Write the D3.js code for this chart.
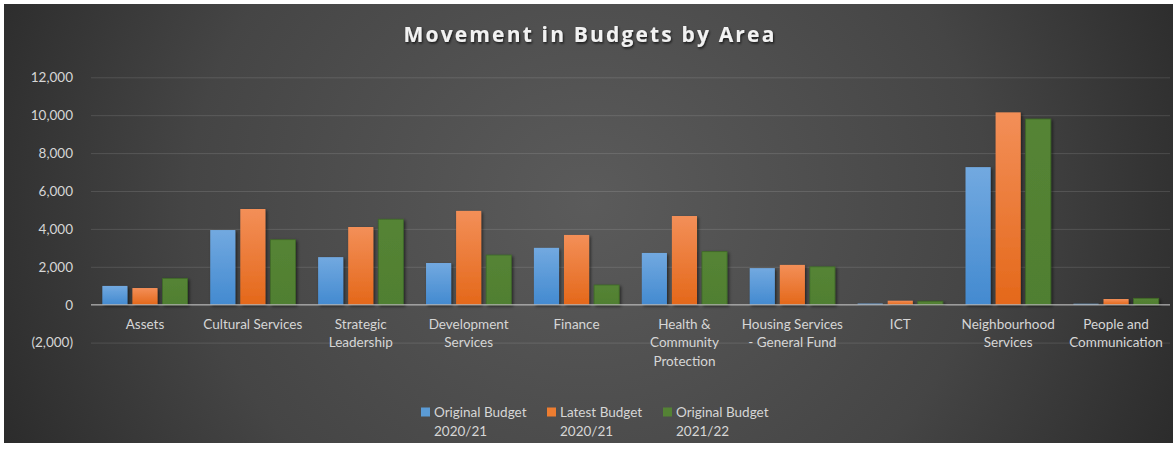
<!DOCTYPE html>
<html>
<head>
<meta charset="utf-8">
<script src="https://cdnjs.cloudflare.com/ajax/libs/d3/7.8.5/d3.min.js"></script>
<style>
  html, body { margin: 0; padding: 0; background: #ffffff; }
  svg { display: block; }
  text { font-family: Lato, "Open Sans", sans-serif; }
</style>
</head>
<body>
<svg id="chart" width="1176" height="452"></svg>
<script>
// Budget movements by service area (£000)
const categories = [
  "Assets", "Cultural Services", "Strategic Leadership", "Development Services",
  "Finance", "Health & Community Protection", "Housing Services - General Fund",
  "ICT", "Neighbourhood Services", "People and Communication"
];
const seriesNames = ["Original Budget 2020/21", "Latest Budget 2020/21", "Original Budget 2021/22"];
const originalBudget2021 = [990, 3940, 2510, 2200, 3000, 2730, 1930, 60, 7260, 50];
const latestBudget2021   = [880, 5050, 4100, 4950, 3680, 4680, 2100, 210, 10150, 300];
const originalBudget2122 = [1390, 3430, 4510, 2620, 1040, 2800, 2000, 180, 9800, 335];
const yTicks = [-2000, 0, 2000, 4000, 6000, 8000, 10000, 12000];

const series = [originalBudget2021, latestBudget2021, originalBudget2122];

const svg = d3.select("#chart");
const defs = svg.append("defs");

// chart background: soft radial glow
const bg = defs.append("radialGradient").attr("id", "bgGrad")
  .attr("cx", "0.5").attr("cy", "0.45").attr("r", "0.62")
  .attr("gradientTransform", "translate(0.5,0.45) scale(1,2.4) translate(-0.5,-0.45)");
bg.append("stop").attr("offset", "0%").attr("stop-color", "#5b5b5b");
bg.append("stop").attr("offset", "55%").attr("stop-color", "#454545");
bg.append("stop").attr("offset", "100%").attr("stop-color", "#232323");

// bar fills
function vGrad(id, top, bottom) {
  const g = defs.append("linearGradient").attr("id", id)
    .attr("x1", 0).attr("y1", 0).attr("x2", 0).attr("y2", 1);
  g.append("stop").attr("offset", "0%").attr("stop-color", top);
  g.append("stop").attr("offset", "100%").attr("stop-color", bottom);
}
vGrad("gBlue", "#72a9e0", "#438ad0");
vGrad("gOrange", "#f38f58", "#e4681a");
vGrad("gGreen", "#558435", "#507f31");
const fills = ["url(#gBlue)", "url(#gOrange)", "url(#gGreen)"];
const legendColors = ["#5b9bd5", "#ed7d31", "#548235"];

const shadow = defs.append("filter").attr("id", "barShadow")
  .attr("x", "-20%").attr("y", "-20%").attr("width", "150%").attr("height", "150%");
shadow.append("feDropShadow").attr("dx", 1.5).attr("dy", 1.5)
  .attr("stdDeviation", 1.6).attr("flood-color", "#000").attr("flood-opacity", 0.55);

const titleShadow = defs.append("filter").attr("id", "titleShadow")
  .attr("x", "-10%").attr("y", "-30%").attr("width", "120%").attr("height", "160%");
titleShadow.append("feDropShadow").attr("dx", 1).attr("dy", 1.5)
  .attr("stdDeviation", 1.2).attr("flood-color", "#000").attr("flood-opacity", 0.7);

svg.append("rect").attr("x", 4).attr("y", 4).attr("width", 1169).attr("height", 439)
  .attr("fill", "url(#bgGrad)");

// scales
const x0 = d3.scaleBand().domain(categories).range([91, 1170]).paddingInner(0).paddingOuter(0);
const groupW = x0.bandwidth() * 0.79;
const x1 = d3.scaleBand().domain(d3.range(series.length))
  .range([(x0.bandwidth() - groupW) / 2, (x0.bandwidth() + groupW) / 2])
  .paddingInner(0.165);
const y = d3.scaleLinear().domain([-2000, 12000]).range([342.6, 77.3]);

const numFmt = d3.format(",");
const tickFmt = d => d < 0 ? `(${numFmt(-d)})` : numFmt(d);
const labelSize = 13.5;

// gridlines + y labels
const yAxis = d3.axisLeft(y).tickValues(yTicks).tickFormat(tickFmt)
  .tickSize(-(1170 - 91)).tickPadding(18);
const gy = svg.append("g").attr("transform", "translate(91,0)").call(yAxis);
gy.select(".domain").remove();
gy.selectAll(".tick line").attr("stroke", "#ffffff").attr("stroke-opacity", 0.12).attr("stroke-width", 1);
gy.selectAll(".tick text").attr("fill", "#d6d6d6").attr("font-size", labelSize);

// bars
const groups = svg.append("g").selectAll("g").data(categories).join("g")
  .attr("transform", d => `translate(${x0(d)},0)`);
groups.selectAll("rect")
  .data((c, i) => series.map((s, k) => ({ k, v: s[i] })))
  .join("rect")
  .attr("x", d => x1(d.k))
  .attr("width", x1.bandwidth())
  .attr("y", d => y(Math.max(0, d.v)))
  .attr("height", d => Math.abs(y(d.v) - y(0)))
  .attr("fill", d => fills[d.k])
  .attr("stroke", d => d.k === 2 ? "#3f6a27" : "none")
  .attr("stroke-width", 0.8)
  .attr("filter", "url(#barShadow)");

// horizontal axis at zero
svg.append("line").attr("x1", 91).attr("x2", 1170).attr("y1", y(0)).attr("y2", y(0))
  .attr("stroke", "#bfbfbf").attr("stroke-opacity", 0.7).attr("stroke-width", 1.6);

// category labels, wrapped to band width
const labelG = svg.append("g");
categories.forEach(c => {
  const cx = x0(c) + x0.bandwidth() / 2;
  const t = labelG.append("text").attr("x", cx).attr("y", 329)
    .attr("text-anchor", "middle").attr("fill", "#d6d6d6").attr("font-size", labelSize);
  const words = c.split(" ");
  let line = [];
  let ts = t.append("tspan").attr("x", cx).attr("dy", 0);
  words.forEach(w => {
    line.push(w);
    ts.text(line.join(" "));
    if (ts.node().getComputedTextLength() > x0.bandwidth() - 2 && line.length > 1) {
      line.pop();
      ts.text(line.join(" "));
      line = [w];
      ts = t.append("tspan").attr("x", cx).attr("dy", 18.3).text(w);
    }
  });
});

// title, spaced out to its set width
const title = svg.append("text").attr("x", 590).attr("y", 42).attr("text-anchor", "middle")
  .attr("fill", "#f2f2f2").attr("font-size", 21).attr("font-weight", 700)
  .style("font-family", "'Open Sans', Lato, sans-serif")
  .attr("filter", "url(#titleShadow)")
  .text("Movement in Budgets by Area");
const titleW = title.node().getComputedTextLength();
const titleText = title.text();
title.attr("letter-spacing", Math.max(0, (373 - titleW) / titleText.length));

// legend
const legendX = [421, 547, 663];
const legend = svg.append("g");
seriesNames.forEach((name, i) => {
  const g = legend.append("g").attr("transform", `translate(${legendX[i]},0)`);
  g.append("rect").attr("x", 0).attr("y", 407.5).attr("width", 9).attr("height", 9)
    .attr("fill", legendColors[i]);
  const parts = name.match(/^(.*) (\S+)$/);
  const t = g.append("text").attr("x", 13).attr("y", 417).attr("fill", "#d6d6d6").attr("font-size", labelSize);
  t.append("tspan").attr("x", 13).text(parts[1]);
  t.append("tspan").attr("x", 13).attr("dy", 18.5).text(parts[2]);
});
</script>
</body>
</html>
